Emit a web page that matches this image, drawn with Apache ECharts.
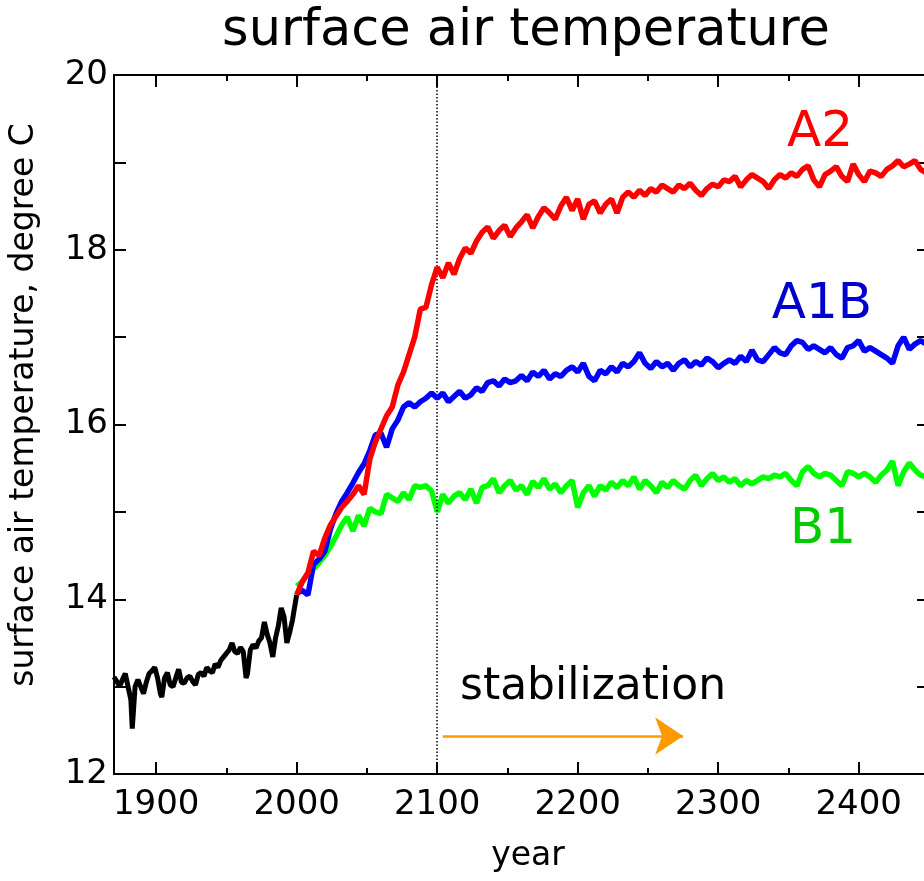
<!DOCTYPE html>
<html>
<head>
<meta charset="utf-8">
<script src="https://cdn.jsdelivr.net/npm/echarts@6/dist/echarts.min.js"></script>
<style>
html,body{margin:0;padding:0;background:#fff;}
#chart{width:924px;height:881px;}
</style>
</head>
<body>
<div id="chart"></div>
<script>
// ---------- data ----------
const majorXTicks = [1900, 2000, 2100, 2200, 2300, 2400];
const minorXTicks = [1950, 2050, 2150, 2250, 2350, 2450];

const histYears = [1870,1872,1874,1876,1878,1880,1882,1883,1885,1887,1889,1891,1893,1895,1897,1899,1901,1903,1904,1906,1908,1910,1912,1914,1916,1918,1920,1922,1924,1926,1928,1930,1932,1934,1936,1938,1940,1942,1944,1946,1948,1950,1952,1954,1956,1958,1960,1962,1964,1965,1967,1969,1971,1973,1975,1977,1979,1981,1983,1985,1987,1989,1991,1993,1995,1997,1998,2000];
const histTemp = [13.11,13.06,13.0,13.08,13.15,13.0,12.85,12.52,13.0,13.08,13.0,12.92,13.05,13.15,13.18,13.22,13.1,12.92,12.88,13.1,13.16,13.02,13.0,13.1,13.2,13.05,13.04,13.1,13.12,13.06,13.02,13.14,13.16,13.12,13.22,13.18,13.16,13.26,13.22,13.3,13.34,13.38,13.42,13.5,13.4,13.38,13.45,13.4,13.1,13.15,13.42,13.48,13.44,13.52,13.56,13.74,13.6,13.5,13.34,13.56,13.7,13.9,13.8,13.5,13.62,13.76,13.86,14.05];

const scenYears = [2000,2004,2008,2012,2016,2020,2024,2028,2032,2036,2040,2044,2048,2052,2056,2060,2064,2068,2072,2076,2080,2084,2088,2092,2096,2100,2104,2108,2112,2116,2120,2124,2128,2132,2136,2140,2144,2148,2152,2156,2160,2164,2168,2172,2176,2180,2184,2188,2192,2196,2200,2204,2208,2212,2216,2220,2224,2228,2232,2236,2240,2244,2248,2252,2256,2260,2264,2268,2272,2276,2280,2284,2288,2292,2296,2300,2304,2308,2312,2316,2320,2324,2328,2332,2336,2340,2344,2348,2352,2356,2360,2364,2368,2372,2376,2380,2384,2388,2392,2396,2400,2404,2408,2412,2416,2420,2424,2428,2432,2436,2440,2444,2448];

const a2Temp = [14.05,14.2,14.3,14.55,14.5,14.7,14.85,14.95,15.05,15.12,15.2,15.3,15.2,15.6,15.8,15.95,16.1,16.2,16.45,16.6,16.8,17.0,17.32,17.34,17.6,17.8,17.68,17.85,17.72,17.9,18.02,17.96,18.1,18.2,18.26,18.13,18.22,18.28,18.15,18.25,18.32,18.4,18.25,18.38,18.48,18.42,18.35,18.5,18.6,18.45,18.58,18.35,18.52,18.56,18.42,18.52,18.58,18.42,18.6,18.66,18.6,18.68,18.62,18.7,18.66,18.74,18.7,18.66,18.74,18.7,18.76,18.68,18.62,18.7,18.75,18.72,18.8,18.78,18.84,18.72,18.8,18.86,18.82,18.78,18.7,18.8,18.86,18.82,18.88,18.84,18.92,18.96,18.8,18.72,18.86,18.9,18.95,18.84,18.78,18.98,18.86,18.78,18.9,18.88,18.84,18.92,18.96,19.02,18.95,18.98,19.02,18.92,18.88];

const a1bTemp = [14.07,14.1,14.05,14.4,14.46,14.55,14.8,14.98,15.12,15.22,15.33,15.45,15.55,15.7,15.88,15.9,15.74,15.95,16.05,16.2,16.25,16.2,16.26,16.3,16.36,16.3,16.36,16.26,16.32,16.38,16.3,16.34,16.42,16.38,16.48,16.5,16.44,16.52,16.48,16.5,16.56,16.5,16.6,16.55,16.62,16.52,16.58,16.55,16.62,16.66,16.6,16.7,16.55,16.5,16.62,16.58,16.66,16.6,16.7,16.66,16.72,16.82,16.7,16.64,16.72,16.66,16.7,16.62,16.7,16.74,16.66,16.72,16.68,16.76,16.72,16.65,16.7,16.74,16.7,16.78,16.72,16.85,16.74,16.72,16.8,16.88,16.82,16.8,16.9,16.96,16.94,16.86,16.9,16.86,16.82,16.88,16.8,16.76,16.88,16.9,16.96,16.84,16.88,16.84,16.8,16.76,16.7,16.9,17.0,16.86,16.92,16.96,16.92];

const b1Temp = [14.15,14.2,14.3,14.35,14.42,14.5,14.6,14.72,14.85,14.94,14.78,14.96,14.84,15.04,15.0,14.98,15.2,15.16,15.12,15.22,15.14,15.3,15.28,15.3,15.24,15.0,15.2,15.1,15.18,15.22,15.14,15.26,15.1,15.28,15.3,15.38,15.22,15.3,15.36,15.25,15.3,15.2,15.35,15.28,15.38,15.26,15.32,15.22,15.3,15.36,15.05,15.22,15.3,15.18,15.3,15.25,15.34,15.28,15.36,15.3,15.4,15.26,15.36,15.3,15.22,15.34,15.28,15.36,15.3,15.26,15.36,15.42,15.3,15.38,15.44,15.36,15.4,15.34,15.38,15.3,15.36,15.32,15.36,15.4,15.38,15.42,15.4,15.44,15.36,15.3,15.46,15.52,15.44,15.4,15.44,15.42,15.36,15.3,15.46,15.44,15.4,15.44,15.4,15.34,15.42,15.48,15.58,15.3,15.46,15.56,15.48,15.42,15.4];

const stabilizationYear = 2100;
const arrowFrom = [2104, 12.435];
const arrowTo = [2275, 12.435];

// ---------- chart ----------
const FONT = 'DejaVu Sans';
const pair = (xs, ys) => xs.map((x, i) => [x, ys[i]]);

const chart = echarts.init(document.getElementById('chart'), null, {renderer: 'canvas'});

function xAx(pos, ticks, len, showLine, showLabel) {
  return {
    type: 'value', min: 1870, max: 2450, position: pos,
    axisLine: {show: showLine, onZero: false, lineStyle: {color: '#000', width: 2}},
    axisTick: {show: true, inside: true, length: len, customValues: ticks, lineStyle: {color: '#000', width: 2}},
    axisLabel: showLabel ? {show: true, customValues: ticks, fontSize: 34, fontFamily: FONT, color: '#000', margin: 14,
      formatter: v => String(v)} : {show: false},
    splitLine: {show: false}
  };
}
function yAx(pos, showLabel) {
  return {
    type: 'value', min: 12, max: 20, interval: 1, position: pos,
    axisLine: {show: pos === 'left', onZero: false, lineStyle: {color: '#000', width: 2}},
    axisTick: {show: true, inside: true, length: 12, lineStyle: {color: '#000', width: 2}},
    axisLabel: showLabel ? {show: true, fontSize: 34, fontFamily: FONT, color: '#000', margin: 6,
      formatter: v => (v % 2 === 0 ? String(v) : '')} : {show: false},
    splitLine: {show: false}
  };
}

const option = {
  animation: false,
  backgroundColor: '#fff',
  grid: {left: 114, top: 75, right: -5, bottom: 107, containLabel: false, outerBoundsMode: 'none'},
  xAxis: [
    xAx('bottom', majorXTicks, 12, true, true),
    xAx('bottom', minorXTicks, 6, false, false),
    xAx('top', majorXTicks, 12, true, false),
    xAx('top', minorXTicks, 6, false, false)
  ],
  yAxis: [yAx('left', true), yAx('right', false)],
  series: [
    {
      type: 'line', name: 'historical', data: pair(histYears, histTemp), showSymbol: false, symbol: 'none',
      lineStyle: {color: '#000', width: 5}, silent: true, z: 3,
      markLine: {
        silent: true, animation: false,
        label: {show: false},
        data: [
          [{coord: [stabilizationYear, 12], symbol: 'none'}, {coord: [stabilizationYear, 20], symbol: 'none'}],
          [{coord: arrowFrom, symbol: 'none', lineStyle: {color: '#ff9900', width: 2.5, type: 'solid'}},
           {coord: arrowTo, symbol: 'arrow', symbolSize: 28}]
        ],
        lineStyle: {color: '#000', width: 1.5, type: [1.5, 2]}
      }
    },
    {type: 'line', name: 'B1', data: pair(scenYears, b1Temp), symbol: 'none', lineStyle: {color: '#00ff00', width: 5.5}, z: 4, silent: true},
    {type: 'line', name: 'A1B', data: pair(scenYears, a1bTemp), symbol: 'none', lineStyle: {color: '#0000ff', width: 5.5}, z: 5, silent: true},
    {type: 'line', name: 'A2', data: pair(scenYears, a2Temp), symbol: 'none', lineStyle: {color: '#ff0000', width: 5.5}, z: 6, silent: true}
  ],
  graphic: [
    {type: 'text', x: 526, y: 32, style: {text: 'surface air temperature', fontSize: 51, fontFamily: FONT, fill: '#000', align: 'center', verticalAlign: 'middle'}},
    {type: 'text', x: 24, y: 405, rotation: Math.PI / 2, style: {text: 'surface air temperature, degree C', fontSize: 33, fontFamily: FONT, fill: '#000', align: 'center', verticalAlign: 'middle'}},
    {type: 'text', x: 528, y: 856, style: {text: 'year', fontSize: 33, fontFamily: FONT, fill: '#000', align: 'center', verticalAlign: 'middle'}},
    {type: 'text', x: 593, y: 688, style: {text: 'stabilization', fontSize: 44, fontFamily: FONT, fill: '#000', align: 'center', verticalAlign: 'middle'}},
    {type: 'text', x: 820, y: 133, style: {text: 'A2', fontSize: 50, fontFamily: FONT, fill: '#ff0000', align: 'center', verticalAlign: 'middle'}},
    {type: 'text', x: 822, y: 305, style: {text: 'A1B', fontSize: 50, fontFamily: FONT, fill: '#0000cc', align: 'center', verticalAlign: 'middle'}},
    {type: 'text', x: 823, y: 530, style: {text: 'B1', fontSize: 50, fontFamily: FONT, fill: '#00cc00', align: 'center', verticalAlign: 'middle'}}
  ]
};
chart.setOption(option);
</script>
</body>
</html>
